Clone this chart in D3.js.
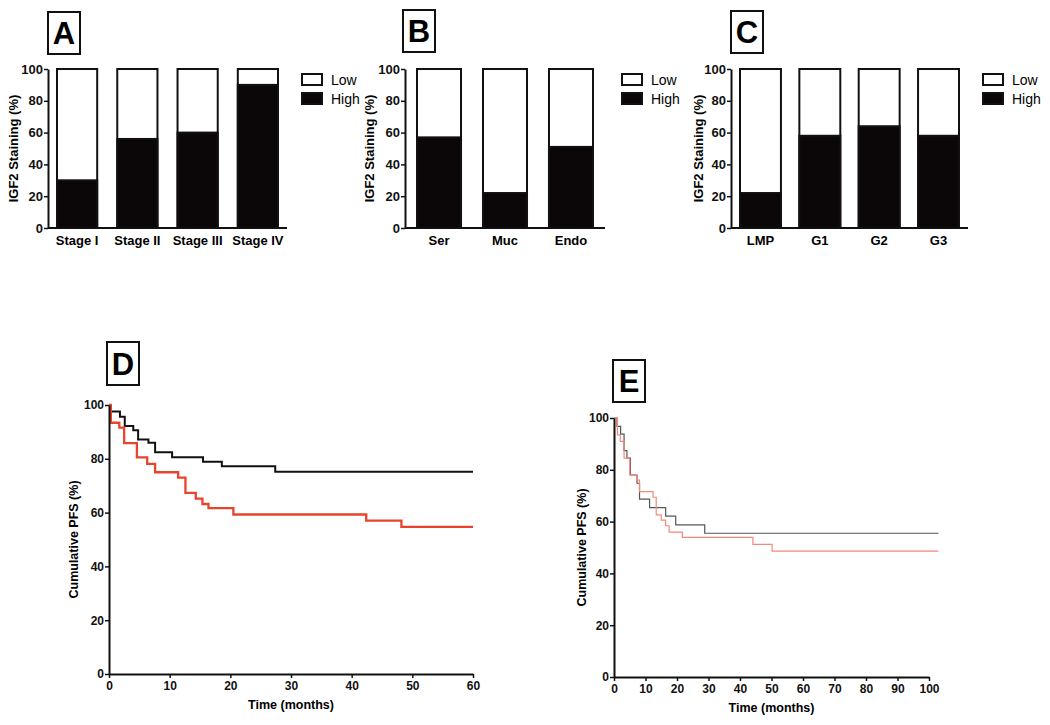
<!DOCTYPE html>
<html>
<head>
<meta charset="utf-8">
<script src="https://cdn.jsdelivr.net/npm/d3@7"></script>
<style>
  body { margin: 0; background: #fff; }
  svg { font-family: "Liberation Sans", Arial, sans-serif; }
</style>
</head>
<body>
<svg id="fig" width="1050" height="725"></svg>
<script>
// ---- data ----
const stageCats = ['Stage I', 'Stage II', 'Stage III', 'Stage IV'];
const stageHigh = [30, 56, 60, 90];

const histCats = ['Ser', 'Muc', 'Endo'];
const histHigh = [57, 22, 51];

const gradeCats = ['LMP', 'G1', 'G2', 'G3'];
const gradeHigh = [22, 58, 64, 58];

const yTicksBar = [0, 20, 40, 60, 80, 100];

// D: PFS, step curves (time in months, cumulative %)
const dBlackT = [0, 0.2, 1.8, 2.6, 4.0, 4.8, 6.5, 7.6, 10.4, 15.5, 18.6, 27.4, 60];
const dBlackV = [100, 97.6, 95.6, 92.2, 90.6, 87.2, 86.0, 82.4, 80.6, 78.9, 77.2, 75.2, 75.2];
const dRedT = [0, 0.3, 1.7, 2.5, 4.6, 6.3, 7.6, 11.4, 12.6, 14.3, 15.4, 16.4, 20.5, 42.4, 48.2, 60];
const dRedV = [100, 93.4, 91.6, 85.8, 80.5, 78.1, 75.0, 73.0, 67.3, 65.2, 63.2, 61.7, 59.3, 57.0, 54.7, 54.7];

// E: PFS, step curves
const eBlackT = [0, 0.95, 2.1, 3.2, 4.1, 5.2, 7.3, 8.1, 11.3, 16.4, 19.6, 28.8, 103];
const eBlackV = [100, 96.8, 93.8, 87.4, 84.5, 78.0, 74.8, 68.7, 65.4, 62.1, 58.7, 55.5, 55.5];
const eRedT = [0, 1.1, 2.0, 3.2, 5.0, 7.3, 8.1, 12.4, 13.4, 15.0, 16.4, 17.5, 21.7, 44.1, 50.2, 103];
const eRedV = [100, 93.5, 91.0, 84.5, 78.0, 76.0, 71.6, 69.4, 62.6, 60.6, 58.4, 55.9, 53.9, 51.2, 48.6, 48.6];

const dXTicks = [0, 10, 20, 30, 40, 50, 60];
const eXTicks = [0, 10, 20, 30, 40, 50, 60, 70, 80, 90, 100];

const svg = d3.select('#fig');

// panel letter in a box
function panelLabel(x, y, w, h, letter) {
    svg.append('rect')
        .attr('x', x).attr('y', y).attr('width', w).attr('height', h)
        .attr('fill', '#fff').attr('stroke', '#111').attr('stroke-width', 2);
    svg.append('text')
        .attr('x', x + w / 2).attr('y', y + h / 2 + 11)
        .attr('text-anchor', 'middle')
        .style('font-size', '31px').style('font-weight', '700')
        .text(letter);
}

function yAxis(g, y, ticks, x0, fs) {
    const ax = g.append('g')
        .attr('transform', `translate(${x0},0)`)
        .call(d3.axisLeft(y).tickValues(ticks).tickSize(4).tickSizeOuter(0));
    ax.select('.domain').attr('stroke', '#111').attr('stroke-width', 2);
    ax.selectAll('.tick line').attr('stroke', '#111').attr('stroke-width', 1.5);
    ax.selectAll('.tick text')
        .attr('x', -5)
        .style('font-family', '"Liberation Sans", Arial, sans-serif')
        .style('font-size', fs).style('font-weight', '700').attr('fill', '#111');
    return ax;
}

// stacked % bar panel
function barPanel(cats, high, opt) {
    const g = svg.append('g');
    const x = d3.scaleBand().domain(cats).range([opt.b0, opt.b1]).paddingInner(opt.pad).paddingOuter(0);
    const y = d3.scaleLinear().domain([0, 100]).range([228, 69]);

    const bars = g.selectAll('.bar').data(cats).enter().append('g');
    bars.append('rect')
        .attr('x', d => x(d)).attr('width', x.bandwidth())
        .attr('y', y(100)).attr('height', y(0) - y(100))
        .attr('fill', '#fff').attr('stroke', '#111').attr('stroke-width', 2);
    bars.append('rect')
        .attr('x', d => x(d)).attr('width', x.bandwidth())
        .attr('y', (d, i) => y(high[i])).attr('height', (d, i) => y(0) - y(high[i]))
        .attr('fill', '#0b0709').attr('stroke', '#111').attr('stroke-width', 2);

    yAxis(g, y, yTicksBar, opt.ax, '13px');
    g.append('line')
        .attr('x1', opt.ax).attr('x2', opt.axEnd)
        .attr('y1', y(0)).attr('y2', y(0))
        .attr('stroke', '#111').attr('stroke-width', 2);

    g.selectAll('.cat').data(cats).enter().append('text')
        .attr('x', d => x(d) + x.bandwidth() / 2).attr('y', 245)
        .attr('text-anchor', 'middle')
        .style('font-size', '13px').style('font-weight', '700')
        .text(d => d);

    g.append('text')
        .attr('transform', `translate(${opt.titleX},${(y(0) + y(100)) / 2}) rotate(-90)`)
        .attr('text-anchor', 'middle')
        .style('font-size', '13px').style('font-weight', '700')
        .text('IGF2 Staining (%)');

    // legend
    const lg = g.append('g').attr('transform', `translate(${opt.legX},0)`);
    lg.append('rect').attr('x', 0).attr('y', 74).attr('width', 20).attr('height', 11)
        .attr('fill', '#fff').attr('stroke', '#111').attr('stroke-width', 2);
    lg.append('rect').attr('x', 0).attr('y', 93).attr('width', 20).attr('height', 11)
        .attr('fill', '#0b0709').attr('stroke', '#111').attr('stroke-width', 2);
    lg.append('text').attr('x', 29).attr('y', 85).style('font-size', '14px').text('Low');
    lg.append('text').attr('x', 29).attr('y', 104).style('font-size', '14px').text('High');
}

barPanel(stageCats, stageHigh, { b0: 57, b1: 278, pad: 0.333, ax: 48, axEnd: 287, titleX: 18, legX: 302 });
barPanel(histCats, histHigh, { b0: 417, b1: 593, pad: 0.333, ax: 405, axEnd: 605, titleX: 374, legX: 622 });
barPanel(gradeCats, gradeHigh, { b0: 740, b1: 959, pad: 0.31, ax: 731, axEnd: 968, titleX: 703, legX: 983 });

panelLabel(48, 12, 32, 42, 'A');
panelLabel(403, 10, 32, 42, 'B');
panelLabel(731, 11, 32, 42, 'C');

// Kaplan-Meier style panel
function kmPanel(opt) {
    const g = svg.append('g');
    const x = d3.scaleLinear().domain([0, opt.xMax]).range([opt.x0, opt.x1]);
    const y = d3.scaleLinear().domain([0, 100]).range([opt.y0, opt.y1]);

    const line = d3.line()
        .x(d => x(d[0])).y(d => y(d[1]))
        .curve(d3.curveStepAfter);

    opt.series.forEach(s => {
        g.append('path')
            .datum(s.t.map((t, i) => [t, s.v[i]]))
            .attr('fill', 'none')
            .attr('stroke', s.color)
            .attr('stroke-width', s.width)
            .attr('d', line);
    });

    yAxis(g, y, yTicksBar, opt.x0, '12px');
    const xa = g.append('g')
        .attr('transform', `translate(0,${opt.y0})`)
        .call(d3.axisBottom(x).tickValues(opt.xTicks).tickSize(4).tickSizeOuter(0));
    xa.select('.domain').attr('stroke', '#111').attr('stroke-width', 2);
    xa.selectAll('.tick line').attr('stroke', '#111').attr('stroke-width', 1.5);
    xa.selectAll('.tick text')
        .attr('y', 7)
        .style('font-family', '"Liberation Sans", Arial, sans-serif')
        .style('font-size', '12px').style('font-weight', '700').attr('fill', '#111');

    g.append('text')
        .attr('x', (opt.x0 + x(opt.xTicks[opt.xTicks.length - 1])) / 2).attr('y', opt.y0 + 35)
        .attr('text-anchor', 'middle')
        .style('font-size', '12.5px').style('font-weight', '700')
        .text('Time (months)');

    g.append('text')
        .attr('transform', `translate(${opt.titleX},${(opt.y0 + opt.y1) / 2}) rotate(-90)`)
        .attr('text-anchor', 'middle')
        .style('font-size', '12.5px').style('font-weight', '700')
        .text('Cumulative PFS (%)');
}

kmPanel({
    xMax: 60, x0: 109, x1: 473, y0: 674, y1: 405, xTicks: dXTicks, titleX: 78,
    series: [
        { t: dBlackT, v: dBlackV, color: '#111', width: 2 },
        { t: dRedT, v: dRedV, color: '#e8432d', width: 2.3 }
    ]
});

kmPanel({
    xMax: 100, x0: 614, x1: 929, y0: 677, y1: 418, xTicks: eXTicks, titleX: 586,
    series: [
        { t: eBlackT, v: eBlackV, color: '#555', width: 1.2 },
        { t: eRedT, v: eRedV, color: '#f28a7c', width: 1.2 }
    ]
});

panelLabel(107, 342, 32, 43, 'D');
panelLabel(613, 360, 32, 42, 'E');
</script>
</body>
</html>
